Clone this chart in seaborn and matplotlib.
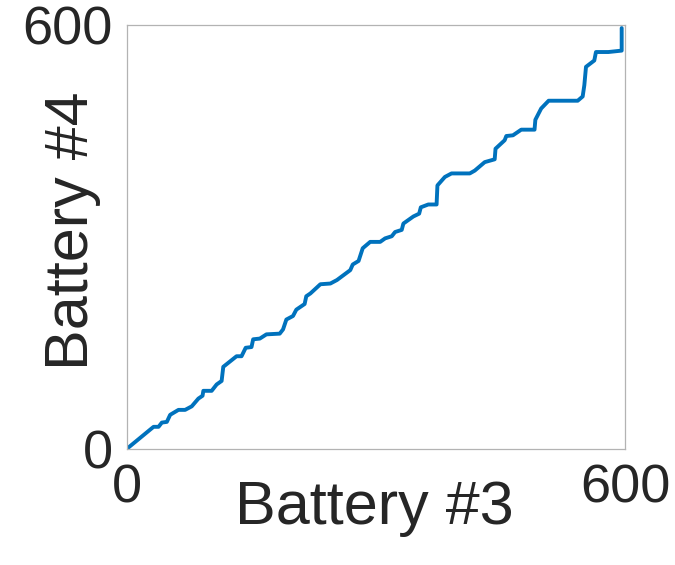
import numpy as np
import pandas as pd
import matplotlib
matplotlib.use("Agg")
import matplotlib.pyplot as plt
import seaborn as sns

# warping path vertices (Battery #3 index, Battery #4 index)
batt3 = [0, 32, 38, 42, 48, 52, 62, 70, 78, 86, 91, 92, 102, 108, 114, 116,
         132, 138, 143, 150, 152, 160, 168, 184, 188, 192, 200, 204, 214, 216,
         221, 233, 245, 253, 269, 272, 279, 284, 293, 305, 311, 319, 323, 331,
         333, 345, 352, 354, 363, 373, 374, 383, 391, 413, 419, 431, 443, 444,
         455, 457, 465, 475, 491, 492, 499, 508, 543, 549, 551, 553, 563, 565,
         580, 596, 596]
batt4 = [0, 31, 31, 37, 38, 48, 55, 55, 60, 71, 75, 82, 82, 91, 96, 116,
         131, 131, 143, 144, 155, 156, 162, 163, 169, 183, 188, 197, 205, 216,
         220, 233, 234, 239, 253, 261, 266, 284, 293, 293, 298, 301, 307, 310,
         319, 329, 333, 342, 346, 346, 373, 385, 390, 390, 394, 406, 410, 425,
         437, 443, 444, 452, 452, 466, 482, 493, 493, 499, 515, 541, 550, 562,
         562, 564, 596]

ticks = [0, 600]

df = pd.DataFrame({"Battery #3": batt3, "Battery #4": batt4})

sns.set_style("white")
plt.rcParams['font.family'] = ['Liberation Sans', 'DejaVu Sans']

fig = plt.figure(figsize=(6.75, 5.65), dpi=100)
ax = fig.add_axes([127 / 675, 1 - 448.7 / 565, 498 / 675, 423.5 / 565])

# estimator=None so repeated x values (vertical steps) are kept as drawn
sns.lineplot(data=df, x="Battery #3", y="Battery #4", sort=False, estimator=None,
             color="#0072BD", linewidth=2.8, ax=ax)

ax.set_xlim(0, 600)
ax.set_ylim(0, 600)
ax.set_xticks(ticks)
ax.set_yticks(ticks)
ax.set_xticklabels([str(t) for t in ticks])
ax.set_yticklabels([str(t) for t in ticks])
ax.tick_params(axis='both', length=0, labelsize=39, labelcolor='#262626')
ax.tick_params(axis='x', pad=11)
ax.tick_params(axis='y', pad=10)

for s in ax.spines.values():
    s.set_color('#b3b3b3')
    s.set_linewidth(0.9)

ax.set_xlabel("Battery #3", fontsize=44, color='#262626')
ax.set_ylabel("Battery #4", fontsize=44, color='#262626')
ax.xaxis.set_label_coords(0.497, -0.074)
ax.yaxis.set_label_coords(-0.052, 0.515)

fig.savefig("out.png", dpi=100)
